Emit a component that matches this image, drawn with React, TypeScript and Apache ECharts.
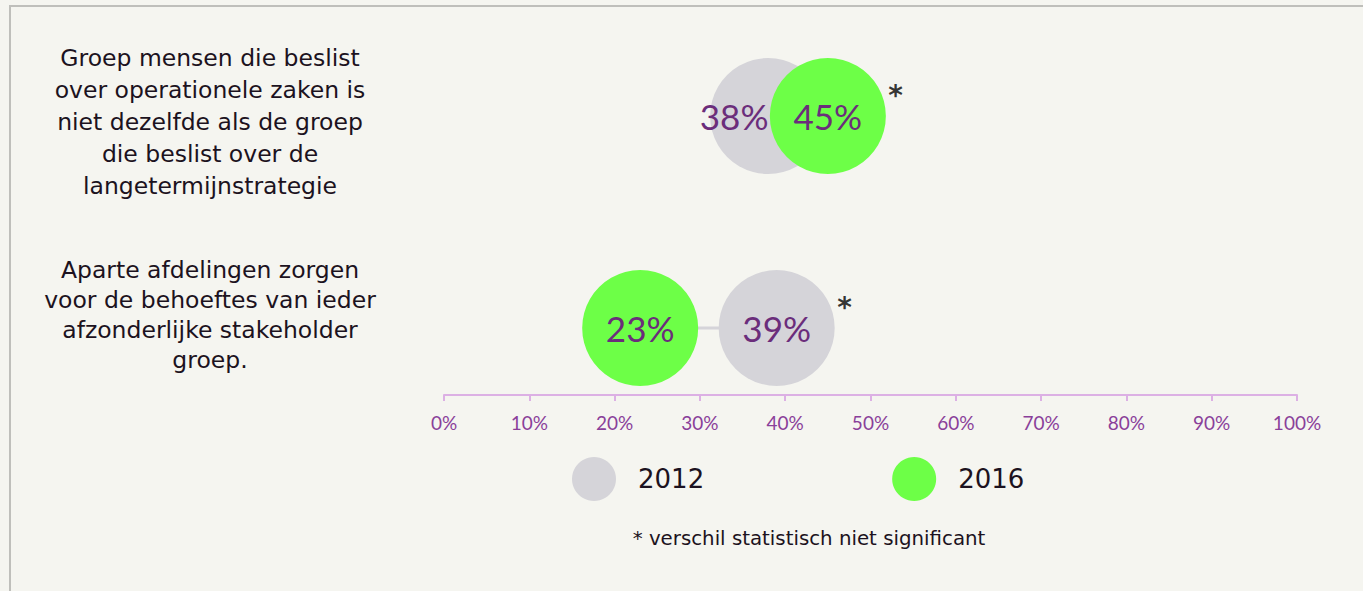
import React, { useEffect, useRef } from "react";
import * as echarts from "echarts";

const categories = [
  "Groep mensen die beslist\nover operationele zaken is\nniet dezelfde als de groep\ndie beslist over de\nlangetermijnstrategie",
  "Aparte afdelingen zorgen\nvoor de behoeftes van ieder\nafzonderlijke stakeholder\ngroep.",
];
const years = ["2012", "2016"];
const values2012 = [38, 39];
const values2016 = [45, 23];
const notSignificant = [true, true];
const footnote = "* verschil statistisch niet significant";

const FONT = "Lato, 'Open Sans', sans-serif";
const TEXT_FONT = "'DejaVu Sans', sans-serif";
const GRAY = "#d5d4d9";
const GREEN = "#6dff47";
const PURPLE = "#6b2d7b";
const DARK = "#1c1220";

export default function App() {
  const ref = useRef<HTMLDivElement>(null);
  useEffect(() => {
    if (!ref.current) return;
    const chart = echarts.init(ref.current, null, { renderer: "svg" });

    const labelOffset = (i: number) => {
      const d = values2012[i] - values2016[i];
      return Math.abs(d) < 13 ? [Math.sign(d) * 34, 0] : [0, 0];
    };

    const bubbleLabel = {
      show: true,
      position: "inside",
      fontFamily: FONT,
      fontSize: 35,
      color: PURPLE,
      formatter: (p: any) => p.value[0] + "%",
    };

    const option: any = {
      animation: false,
      backgroundColor: "#f5f5f0",
      textStyle: { fontFamily: FONT },
      grid: { left: 444, right: 66, top: 10, height: 424, outerBoundsMode: "none" },
      xAxis: {
        type: "value",
        min: 0,
        max: 100,
        interval: 10,
        offset: -39,
        axisLine: { show: true, lineStyle: { color: "#dcb0e4", width: 2 } },
        axisTick: { show: true, length: 6, lineStyle: { color: "#dcb0e4", width: 2 } },
        splitLine: { show: false },
        axisLabel: {
          formatter: "{value}%",
          color: "#8a3f9a",
          fontSize: 19,
          fontFamily: FONT,
          margin: 18,
        },
      },
      yAxis: {
        type: "category",
        data: categories,
        inverse: true,
        axisLine: { show: false },
        axisTick: { show: false },
        axisLabel: { show: false },
        splitLine: { show: false },
      },
      legend: {
        data: years,
        icon: "circle",
        left: 567,
        top: 452,
        itemWidth: 44,
        itemHeight: 44,
        itemGap: 188,
        selectedMode: false,
        textStyle: { fontSize: 26, color: DARK, fontFamily: TEXT_FONT, padding: [0, 0, 0, 17] },
      },
      series: [
        {
          type: "custom",
          name: "connector",
          z: 1,
          data: categories.map((_, i) => [values2012[i], values2016[i], i]),
          encode: { x: [0, 1], y: 2 },
          renderItem: (_params: any, api: any) => {
            const p1 = api.coord([api.value(0), api.value(2)]);
            const p2 = api.coord([api.value(1), api.value(2)]);
            return {
              type: "line",
              shape: { x1: p1[0], y1: p1[1], x2: p2[0], y2: p2[1] },
              style: { stroke: GRAY, lineWidth: 3 },
            };
          },
        },
        {
          type: "scatter",
          name: years[0],
          z: 2,
          symbolSize: 116,
          itemStyle: { color: GRAY, opacity: 1 },
          label: bubbleLabel,
          data: values2012.map((v, i) => ({ value: [v, i], label: { offset: labelOffset(i) } })),
        },
        {
          type: "scatter",
          name: years[1],
          z: 3,
          symbolSize: 116,
          itemStyle: { color: GREEN, opacity: 1 },
          label: bubbleLabel,
          data: values2016.map((v, i) => ({ value: [v, i] })),
        },
        {
          type: "scatter",
          name: "sig",
          z: 4,
          symbolSize: 1,
          itemStyle: { color: "rgba(0,0,0,0)" },
          silent: true,
          label: {
            show: true,
            position: "right",
            distance: 60,
            offset: [0, -21],
            formatter: "*",
            fontSize: 28,
            fontWeight: "bold",
            fontFamily: TEXT_FONT,
            color: "#000000",
          },
          data: categories
            .map((_, i) => (notSignificant[i] ? [Math.max(values2012[i], values2016[i]), i] : null))
            .filter((d) => d !== null),
        },
      ],
      graphic: [
        {
          type: "rect",
          shape: { x: 10, y: 6, width: 1500, height: 800 },
          style: { fill: "none", stroke: "#bfbfbb", lineWidth: 2 },
          silent: true,
        },
        {
          type: "text",
          x: 210,
          y: 42,
          style: {
            text: categories[0],
            fontSize: 23.5,
            lineHeight: 32,
            fontFamily: TEXT_FONT,
            fill: DARK,
            align: "center",
            verticalAlign: "top",
          },
        },
        {
          type: "text",
          x: 210,
          y: 255,
          style: {
            text: categories[1],
            fontSize: 23.5,
            lineHeight: 30,
            fontFamily: TEXT_FONT,
            fill: DARK,
            align: "center",
            verticalAlign: "top",
          },
        },
        {
          type: "text",
          x: 809,
          y: 538,
          style: {
            text: footnote,
            fontSize: 19.8,
            fontFamily: TEXT_FONT,
            fill: DARK,
            align: "center",
            verticalAlign: "middle",
          },
        },
      ],
    };
    chart.setOption(option);
    return () => chart.dispose();
  }, []);
  return (
    <div
      ref={ref}
      style={{ position: "fixed", left: 0, top: 0, width: 1363, height: 591 }}
    />
  );
}
